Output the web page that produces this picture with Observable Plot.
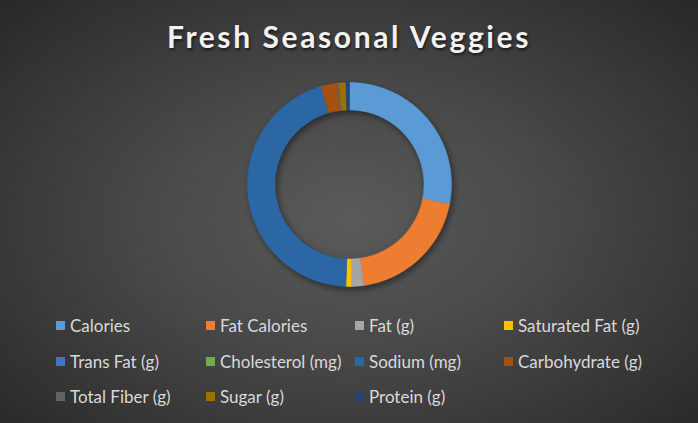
<!DOCTYPE html>
<html>
<head>
<meta charset="utf-8">
<script src="https://cdn.jsdelivr.net/npm/d3@7"></script>
<script src="https://cdn.jsdelivr.net/npm/@observablehq/plot@0.6"></script>
<style>
  html, body { margin: 0; padding: 0; background: #262626; }
  #chart {
    position: relative; width: 698px; height: 423px; overflow: hidden;
    background: radial-gradient(ellipse 75% 80% at 50% 52%, #5a5a5a 0%, #484848 40%, #333333 75%, #242424 100%);
    font-family: Lato, "Open Sans", sans-serif;
  }
  #title {
    position: absolute; left: 0; top: 18px; width: 698px; text-align: center;
    font-family: Lato, sans-serif; font-weight: 700; font-size: 30px; letter-spacing: 2.6px;
    color: #f2f2f2; text-shadow: 1px 2px 3px rgba(0,0,0,0.6);
  }
  #plot { position: absolute; left: 0; top: 70px; }
  #legend { position: absolute; left: 0; top: 313px; width: 698px; }
  .item { position: absolute; height: 24px; display: flex; align-items: center;
          font-size: 17px; color: #d9d9d9; white-space: nowrap; }
  .sw { width: 9px; height: 9px; margin-right: 5px; flex: none; }
</style>
</head>
<body>
<div id="chart">
  <div id="title">Fresh Seasonal Veggies</div>
  <div id="plot"></div>
  <div id="legend"></div>
</div>
<script>
// Data
const categories = ["Calories", "Fat Calories", "Fat (g)", "Saturated Fat (g)", "Trans Fat (g)",
  "Cholesterol (mg)", "Sodium (mg)", "Carbohydrate (g)", "Total Fiber (g)", "Sugar (g)", "Protein (g)"];
const values = [100, 70, 7, 3, 0, 0, 160, 9, 1, 4, 2];
const colors = ["#5B9BD5", "#ED7D31", "#A5A5A5", "#FFC000", "#4472C4", "#70AD47",
  "#2B67A5", "#A5500F", "#636363", "#997300", "#264478"];

const innerRatio = 0.73;

// Build ring polygons in unit data space from pie angles
const pie = d3.pie().sort(null).value(d => d.value);
const arcs = pie(categories.map((c, i) => ({category: c, value: values[i]})));
const pts = [];
for (const a of arcs) {
  if (a.endAngle - a.startAngle <= 0) continue;
  const n = Math.max(2, Math.ceil((a.endAngle - a.startAngle) / (Math.PI / 180)));
  const ring = [];
  for (let k = 0; k <= n; k++) {
    const t = a.startAngle + (a.endAngle - a.startAngle) * k / n;
    ring.push({x: Math.sin(t), y: Math.cos(t)});
  }
  for (let k = n; k >= 0; k--) {
    const t = a.startAngle + (a.endAngle - a.startAngle) * k / n;
    ring.push({x: innerRatio * Math.sin(t), y: innerRatio * Math.cos(t)});
  }
  ring.push(ring[0]);
  ring.forEach(p => pts.push({...p, category: a.data.category}));
}

const chart = Plot.plot({
  width: 698,
  height: 230,
  marginLeft: 247, marginRight: 247,
  marginTop: 12, marginBottom: 14,
  x: {domain: [-1, 1], axis: null},
  y: {domain: [-1, 1], axis: null},
  color: {domain: categories, range: colors},
  style: {background: "transparent", overflow: "visible"},
  marks: [
    Plot.line(pts, {x: "x", y: "y", z: "category", fill: "category", stroke: "category",
      strokeWidth: 0.5, curve: "linear"})
  ]
});
chart.style.filter = "drop-shadow(2px 3px 3px rgba(0,0,0,0.45))";
document.getElementById("plot").appendChild(chart);

// Legend
const colX = [56, 206, 355, 504];
const rowY = [0, 36, 71];
const legend = document.getElementById("legend");
categories.forEach((c, i) => {
  const el = document.createElement("div");
  el.className = "item";
  el.style.left = colX[i % 4] + "px";
  el.style.top = rowY[Math.floor(i / 4)] + "px";
  const sw = document.createElement("span");
  sw.className = "sw";
  sw.style.background = colors[i];
  const tx = document.createElement("span");
  tx.textContent = c;
  el.appendChild(sw); el.appendChild(tx);
  legend.appendChild(el);
});
</script>
</body>
</html>
